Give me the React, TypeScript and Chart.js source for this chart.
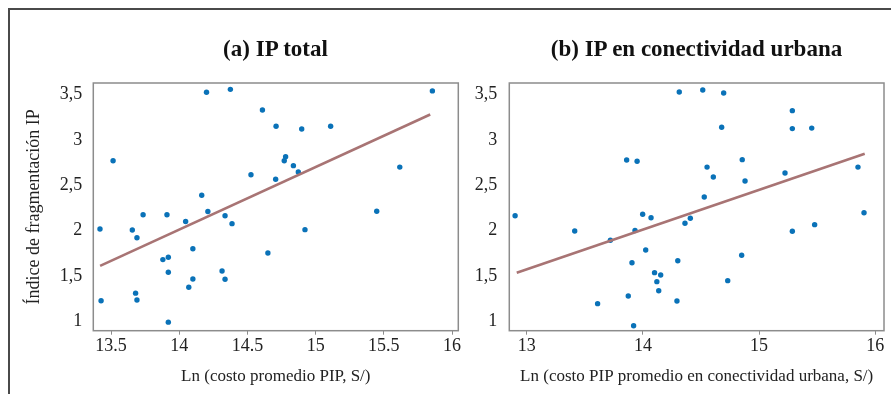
import React, { useEffect, useRef } from "react";
import { Chart, registerables } from "chart.js";

Chart.register(...registerables);

// ---- Data ----
const leftX = [13.419, 13.427, 13.515, 13.656, 13.69, 13.735, 13.68, 13.69, 13.88, 13.92,
  13.92, 13.91, 13.92, 14.047, 14.1, 14.1, 14.07, 14.165, 14.2, 14.21,
  14.336, 14.387, 14.314, 14.336, 14.375, 14.526, 14.61, 14.71, 14.78, 14.77,
  14.707, 14.65, 14.837, 14.873, 14.898, 14.922, 15.11, 15.448, 15.617, 15.856];
const leftY = [2.018, 1.227, 2.77, 2.007, 1.92, 2.175, 1.31, 1.235, 1.68, 1.705,
  1.54, 2.175, 0.99, 2.1, 1.8, 1.466, 1.375, 2.39, 3.525, 2.21,
  2.164, 2.076, 1.555, 1.463, 3.557, 2.616, 3.33, 3.15, 2.815, 2.77,
  2.566, 1.753, 2.716, 2.646, 3.12, 2.01, 3.15, 2.213, 2.7, 3.54];
const leftTrendX = [13.42, 15.84];
const leftTrendY = [1.61, 3.28];

const rightX = [12.9, 13.413, 13.61, 13.72, 13.86, 13.95, 13.874, 13.906, 13.92, 13.932,
  13.998, 14.07, 14.024, 14.1, 14.153, 14.12, 14.136, 14.3, 14.293, 14.313,
  14.362, 14.408, 14.515, 14.695, 14.678, 14.552, 14.606, 14.528, 14.855, 14.879,
  14.85, 14.73, 15.223, 15.286, 15.286, 15.453, 15.286, 15.478, 15.851, 15.903];
const rightY = [2.164, 1.996, 1.194, 1.893, 2.778, 2.764, 1.279, 1.646, 0.95, 2.0,
  2.18, 2.142, 1.786, 1.536, 1.51, 1.437, 1.337, 1.668, 1.224, 3.528,
  2.08, 2.136, 3.55, 3.517, 3.139, 2.7, 2.59, 2.37, 2.782, 2.547,
  1.728, 1.448, 2.635, 3.322, 3.124, 3.13, 1.992, 2.065, 2.7, 2.197];
const rightTrendX = [12.914, 15.909];
const rightTrendY = [1.536, 2.848];

const leftXTicks = [13.5, 14, 14.5, 15, 15.5, 16];
const rightXTicks = [13, 14, 15, 16];
const yTicks = [1, 1.5, 2, 2.5, 3, 3.5];

const titleLeft = "(a) IP total";
const titleRight = "(b) IP en conectividad urbana";
const xTitleLeft = "Ln (costo promedio PIP, S/)";
const xTitleRight = "Ln (costo PIP promedio en conectividad urbana, S/)";
const yTitle = "Índice de fragmentación IP";

const FONT = "'Liberation Serif', 'Times New Roman', serif";
const POINT_COLOR = "#0a72b8";
const LINE_COLOR = "#a87474";
const FRAME_COLOR = "#8c8c8c";

const boxPlugin = {
  id: "boxPlugin",
  afterDraw(chart: any) {
    const { ctx, chartArea } = chart;
    ctx.save();
    ctx.strokeStyle = FRAME_COLOR;
    ctx.lineWidth = 1.5;
    ctx.strokeRect(chartArea.left, chartArea.top, chartArea.right - chartArea.left, chartArea.bottom - chartArea.top);
    ctx.restore();
  },
};

type PanelProps = {
  xs: number[];
  ys: number[];
  tx: number[];
  ty: number[];
  xTicks: number[];
  xMin: number;
  xMax: number;
  xTitle: string;
  showYTitle: boolean;
  yAxisWidth: number;
  yLabelPad: number;
  padRight: number;
  width: number;
  height: number;
};

function Panel(p: PanelProps) {
  const ref = useRef<HTMLCanvasElement | null>(null);
  useEffect(() => {
    if (!ref.current) return;
    const pts = p.xs.map((x, i) => ({ x, y: p.ys[i] }));
    const trend = p.tx.map((x, i) => ({ x, y: p.ty[i] }));
    const chart = new Chart(ref.current, {
      type: "scatter",
      data: {
        datasets: [
          {
            data: trend,
            showLine: true,
            borderColor: LINE_COLOR,
            borderWidth: 2.6,
            pointRadius: 0,
            fill: false,
          } as any,
          {
            data: pts,
            backgroundColor: POINT_COLOR,
            borderColor: POINT_COLOR,
            pointRadius: 2.7,
            borderWidth: 0,
          },
        ],
      },
      options: {
        animation: false,
        responsive: false,
        devicePixelRatio: 1,
        layout: { padding: { top: 83, right: p.padRight, bottom: 0, left: 0 } },
        plugins: { legend: { display: false }, tooltip: { enabled: false }, title: { display: false } },
        scales: {
          x: {
            type: "linear",
            min: p.xMin,
            max: p.xMax,
            afterBuildTicks: (axis: any) => {
              axis.ticks = p.xTicks.map((v) => ({ value: v }));
            },
            afterFit: (axis: any) => {
              axis.height = 63.3;
            },
            grid: { drawOnChartArea: false, drawTicks: true, tickLength: 4, color: FRAME_COLOR },
            border: { display: false },
            ticks: {
              padding: 1,
              maxRotation: 0,
              autoSkip: false,
              color: "#222",
              font: { family: FONT, size: 18 },
              callback: (v: any) => String(v),
            },
            title: {
              display: true,
              text: p.xTitle,
              color: "#222",
              font: { family: FONT, size: 17 },
              padding: { top: 0, bottom: 6.8 },
            },
          },
          y: {
            type: "linear",
            min: 0.896,
            max: 3.627,
            afterBuildTicks: (axis: any) => {
              axis.ticks = yTicks.map((v) => ({ value: v }));
            },
            afterFit: (axis: any) => {
              axis.width = p.yAxisWidth;
            },
            grid: { display: false, drawTicks: false },
            border: { display: false },
            ticks: {
              padding: p.yLabelPad,
              autoSkip: false,
              color: "#222",
              font: { family: FONT, size: 18 },
              callback: (v: any) => String(v).replace(".", ","),
            },
            title: {
              display: p.showYTitle,
              text: yTitle,
              color: "#222",
              font: { family: FONT, size: 18 },
              padding: { top: 23.2, bottom: 0 },
            },
          },
        },
      },
      plugins: [boxPlugin],
    });
    return () => chart.destroy();
  }, []);
  return <canvas ref={ref} width={p.width} height={p.height} style={{ display: "block", width: p.width, height: p.height }} />;
}

export default function App() {
  const titleStyle: React.CSSProperties = {
    position: "absolute",
    top: 37.3,
    fontFamily: FONT,
    fontWeight: "bold",
    fontSize: 23,
    lineHeight: "23px",
    textAlign: "center",
    color: "#111",
    whiteSpace: "nowrap",
  };
  return (
    <div style={{ position: "absolute", left: 0, top: 0, width: 891, height: 394, overflow: "hidden", background: "#fff" }}>
      <div style={{ position: "absolute", left: 8, top: 8, width: 950, height: 450, borderLeft: "2px solid #4a4a4a", borderTop: "2px solid #4a4a4a" }} />
      <div style={{ position: "absolute", left: 0, top: 0 }}>
        <Panel xs={leftX} ys={leftY} tx={leftTrendX} ty={leftTrendY} xTicks={leftXTicks} xMin={13.37} xMax={16.046}
          xTitle={xTitleLeft} showYTitle={true} yAxisWidth={93.3} yLabelPad={11} padRight={11.7} width={470} height={394} />
      </div>
      <div style={{ position: "absolute", left: 470, top: 0 }}>
        <Panel xs={rightX} ys={rightY} tx={rightTrendX} ty={rightTrendY} xTicks={rightXTicks} xMin={12.85} xMax={16.075}
          xTitle={xTitleRight} showYTitle={false} yAxisWidth={39.3} yLabelPad={12} padRight={7} width={421} height={394} />
      </div>
      <div style={{ ...titleStyle, left: 93, width: 365 }}>{titleLeft}</div>
      <div style={{ ...titleStyle, left: 509, width: 375 }}>{titleRight}</div>
    </div>
  );
}
